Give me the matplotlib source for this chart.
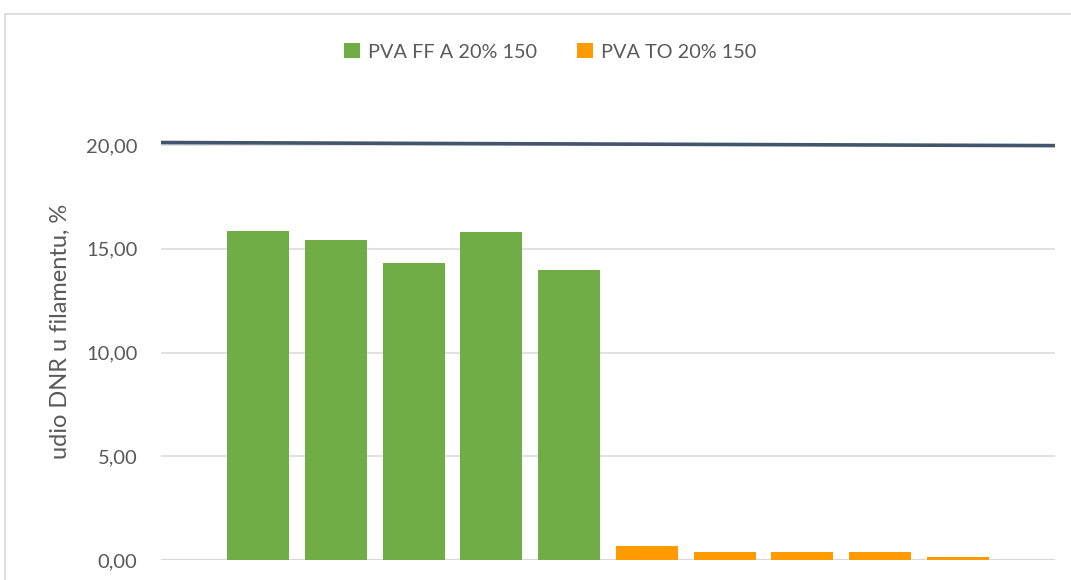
import matplotlib
matplotlib.use('Agg')
import matplotlib.pyplot as plt
from matplotlib.patches import Rectangle
from matplotlib.ticker import FuncFormatter
import numpy as np

# data
series_names = ["PVA FF A 20% 150", "PVA TO 20% 150"]
ff_values = [15.86, 15.42, 14.31, 15.81, 13.98]
to_values = [0.67, 0.38, 0.38, 0.38, 0.14]
line_values = [20.12, 19.97]   # reference line, left end / right end
y_ticks = [0, 5, 10, 15, 20]

green = '#70AD47'
orange = '#FF9A00'
line_col = '#44546A'
text_col = '#595959'
grid_col = '#D9D9D9'

plt.rcParams['font.family'] = ['Lato', 'DejaVu Sans']

fig = plt.figure(figsize=(10.71, 5.8), dpi=100)
ax = fig.add_axes([161 / 1071, 20 / 580, (1055 - 161) / 1071, (580 - 20 - 103.5) / 580])

x_ff = np.arange(len(ff_values))
x_to = np.arange(len(to_values)) + len(ff_values)
ax.bar(x_ff, ff_values, width=0.8, color=green, label=series_names[0], zorder=3)
ax.bar(x_to, to_values, width=0.8, color=orange, label=series_names[1], zorder=3)

xmin, xmax = -1.25, len(ff_values) + len(to_values) + 0.25
ax.plot([xmin, xmax], line_values, color=line_col, lw=2.6, solid_capstyle='butt', zorder=4, clip_on=False)

ax.set_xlim(xmin, xmax)
ax.set_ylim(0, 22)
ax.set_yticks(y_ticks)
ax.yaxis.set_major_formatter(FuncFormatter(lambda v, p: f"{v:.2f}".replace('.', ',')))
ax.set_xticks([])
ax.grid(axis='y', color=grid_col, lw=1.1, zorder=0)
for s in ax.spines.values():
    s.set_visible(False)
ax.axhline(0, color=grid_col, lw=1.6, zorder=2)
ax.tick_params(axis='y', length=0, pad=17, labelsize=14.5, labelcolor=text_col)
ax.set_ylabel("udio DNR u filamentu, %", fontsize=17, color=text_col, labelpad=11)

fig.legend(loc='center', bbox_to_anchor=(550 / 1071, 1 - 52 / 580), ncol=2, frameon=False,
           fontsize=14.3, labelcolor=text_col, handlelength=0.8, handleheight=0.8,
           handletextpad=0.4, columnspacing=2.0)

# chart border (runs off the right and bottom edge)
fig.patches.append(Rectangle((5 / 1071, -0.1), 1.2, 1 - 14 / 580 + 0.1, transform=fig.transFigure,
                             fill=False, edgecolor=grid_col, lw=1.2))

fig.savefig('out.png', dpi=100)
